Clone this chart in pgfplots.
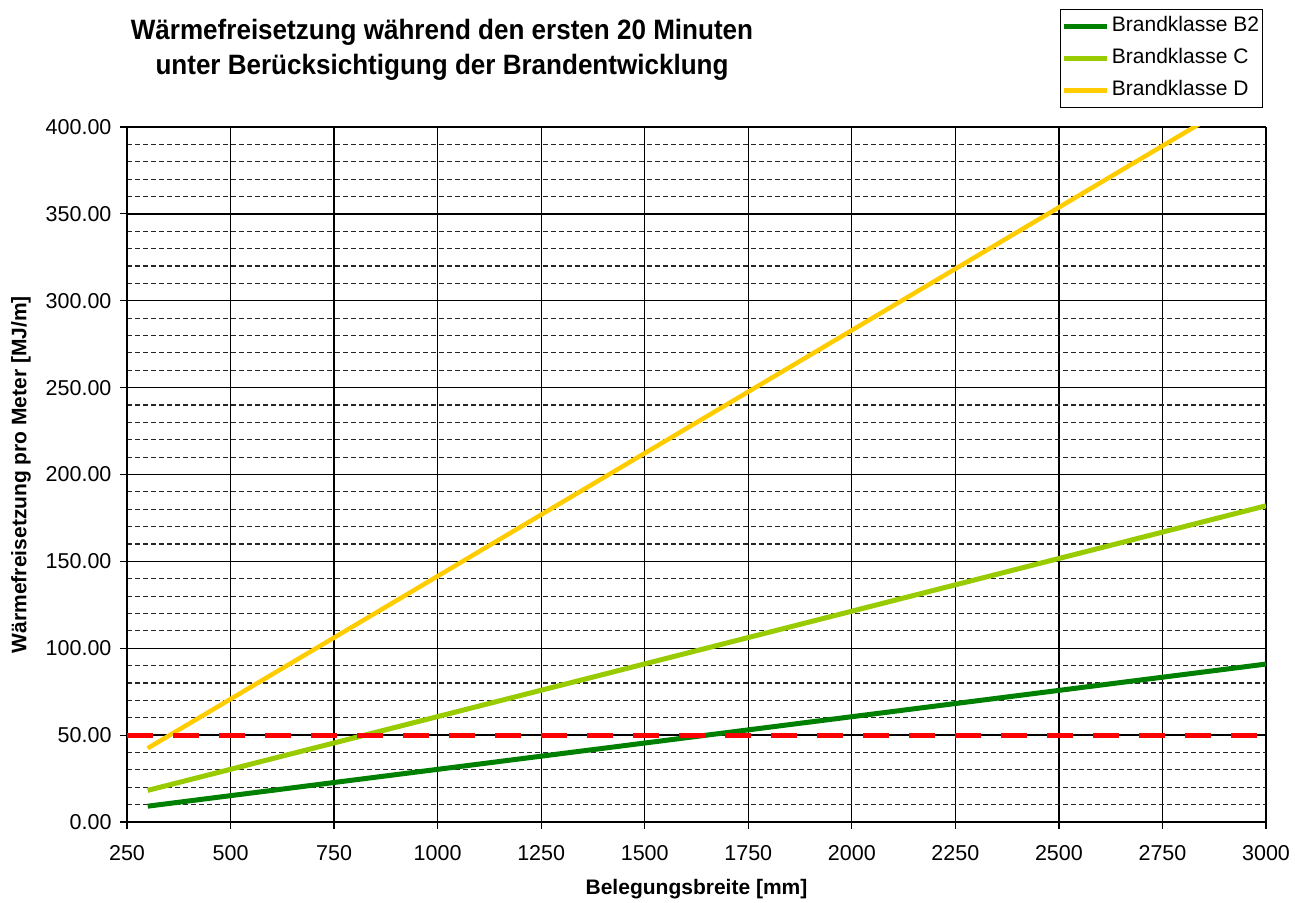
\documentclass[border=0pt]{standalone}
\usepackage{fontspec}
\setmainfont{Liberation Sans}
\usepackage{graphicx}
\usepackage{pgfplots}
\pgfplotsset{compat=1.18}
\definecolor{bgreen}{HTML}{008000}
\definecolor{cgreen}{HTML}{99CC00}
\definecolor{dgold}{HTML}{FFCC00}
\begin{document}
\begin{tikzpicture}[x=1pt,y=1pt]
\begin{axis}[
  at={(127pt,77pt)}, anchor=south west,
  scale only axis, width=1139pt, height=695pt,
  xmin=250, xmax=3000, ymin=0, ymax=400,
  xtick={250,500,...,3000},
  ytick={0,50,...,400},
  minor ytick={10,20,...,390},
  axis lines=left,
  axis line style={-, black, line width=1.5pt},
  tick align=outside,
  major tick length=7pt,
  minor tick length=0pt,
  tick style={black, line width=1.2pt},
  grid=both,
  major grid style={black, line width=1.3pt},
  minor grid style={black!85, line width=1.2pt, dash pattern=on 5pt off 3pt},
  /pgf/number format/assume math mode=true,
  xticklabel style={font=\fontsize{21.5}{24}\selectfont, /pgf/number format/1000 sep={}, yshift=-13pt},
  yticklabel style={font=\fontsize{21.5}{24}\selectfont, xshift=-5pt, /pgf/number format/.cd, fixed, fixed zerofill, precision=2},
  xlabel={Belegungsbreite [mm]},
  ylabel={Wärmefreisetzung pro Meter [MJ/m]},
  xlabel style={font=\fontsize{21}{24}\selectfont\bfseries, yshift=-12pt},
  ylabel style={font=\fontsize{21}{24}\selectfont\bfseries, yshift=8pt},
  legend style={at={(0.8195,1.170)}, anchor=north west, draw=black, line width=1pt,
    font=\fontsize{21}{24}\selectfont, inner sep=1pt, row sep=0pt,
    nodes={inner sep=2pt, text height=19pt, text depth=9pt, line width=1pt}},
  legend cell align=left,
  legend image code/.code={\draw[#1, line width=5pt] (0pt,0pt) -- (43pt,0pt);},
  clip=true,
]
\addplot[bgreen, line width=5pt] coordinates {(300,9.1) (3000,90.9)};
\addlegendentry{Brandklasse B2}
\addplot[cgreen, line width=5pt] coordinates {(300,18.2) (3000,182.0)};
\addlegendentry{Brandklasse C}
\addplot[dgold, line width=4.5pt] coordinates {(300,42.45) (3000,424.5)};
\addlegendentry{Brandklasse D}
\addplot[red, line width=5pt, dash pattern=on 26pt off 20pt, forget plot] coordinates {(250,50) (3000,50)};
\end{axis}
\node[align=center, font=\fontsize{28}{35}\selectfont\bfseries] at (442pt,849pt)
  {\scalebox{0.93}[1]{Wärmefreisetzung während den ersten 20 Minuten}\\\scalebox{0.93}[1]{unter Berücksichtigung der Brandentwicklung}};
\path (0,0) rectangle (1295pt,899pt);
\end{tikzpicture}
\end{document}
